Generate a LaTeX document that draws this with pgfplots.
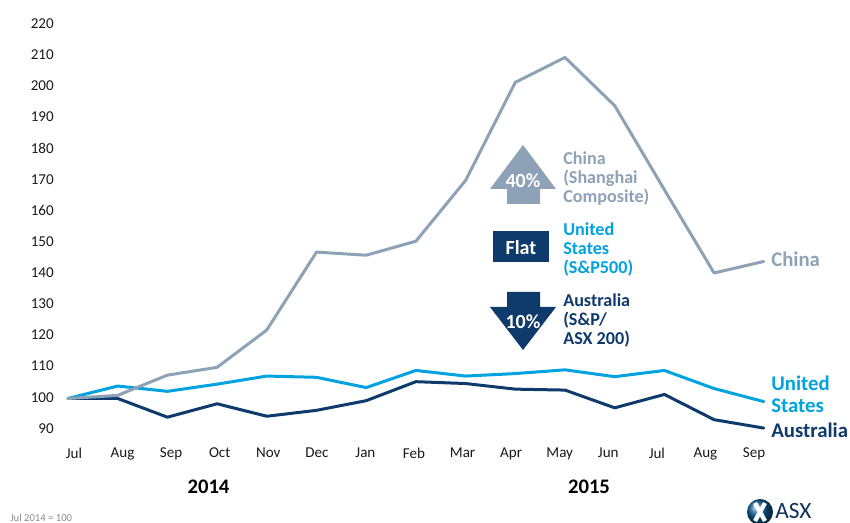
\documentclass[border=0pt]{standalone}
\usepackage{pgfplots}
\usepackage{fontspec}
\setmainfont{Carlito}
\pgfplotsset{compat=1.18}
\definecolor{cgrey}{HTML}{8DA2B6}
\definecolor{cblue}{HTML}{00A3E0}
\definecolor{cnavy}{HTML}{0F3A6C}
\newcommand{\fs}[1]{\fontsize{#1}{#1}\selectfont}
\newcommand{\fsb}[2]{\fontsize{#1}{#2}\selectfont}
\begin{document}
\begin{tikzpicture}
\path[use as bounding box] (0pt,0pt) rectangle (637.5pt,392.25pt);
\begin{axis}[
  at={(45pt,58.1pt)}, anchor=south west,
  scale only axis,
  width=532.5pt, height=326.25pt,
  xmin=-0.16097, xmax=14.1247,
  ymin=84.9, ymax=224.56,
  clip=false,
  axis line style={draw=none},
  tick style={draw=none},
  major tick length=0pt,
  /pgf/number format/assume math mode=true,
  ytick={90,100,110,120,130,140,150,160,170,180,190,200,210,220},
  xtick={0.1207,1.0980,2.0753,3.0526,4.0299,5.0072,5.9845,6.9618,7.9391,8.9164,9.8937,10.871,11.8483,12.8256,13.8029},
  xticklabels={Jul,Aug,Sep,Oct,Nov,Dec,Jan,Feb,Mar,Apr,May,Jun,Jul,Aug,Sep},
  tick label style={font=\fs{11.3pt},text=black!90,inner sep=0pt},
  yticklabel style={xshift=-4.5pt,yshift=0.9pt},
  xticklabel style={yshift=-1.8pt},
]
\addplot[cnavy,line width=2.25pt,line join=round,line cap=round] coordinates {(0,100)(1,100)(2,94)(3,98.3)(4,94.3)(5,96.2)(6,99.3)(7,105.4)(8,104.8)(9,103)(10,102.7)(11,97)(12,101.3)(13,93.2)(14,90.5)};
\addplot[cblue,line width=2.25pt,line join=round,line cap=round] coordinates {(0,100)(1,104)(2,102.3)(3,104.6)(4,107.2)(5,106.8)(6,103.5)(7,109)(8,107.2)(9,108)(10,109.2)(11,107)(12,109)(13,103.2)(14,99)};
\addplot[cgrey,line width=2.25pt,line join=round,line cap=round] coordinates {(0,100)(1,101)(2,107.5)(3,110)(4,122)(5,147)(6,146)(7,150.5)(8,170)(9,201.5)(10,209.5)(11,194)(12,167)(13,140.3)(14,144)};
\end{axis}
\begin{scope}[x=0.75pt,y=-0.75pt,shift={(0pt,392.25pt)}]
\fill[cgrey] (523,145)--(556,189)--(540,189)--(540,204)--(507,204)--(507,189)--(490,189)--cycle;
\fill[cnavy] (493,231) rectangle (549,262);
\fill[cnavy] (507,292)--(540,292)--(540,307)--(556,307)--(523,350)--(490,307)--(507,307)--cycle;
\node[text=white,font=\bfseries\fs{15pt},inner sep=0] at (523,181) {40\%};
\node[text=white,font=\bfseries\fs{15pt},inner sep=0] at (521,248) {Flat};
\node[text=white,font=\bfseries\fs{15pt},inner sep=0] at (523,322) {10\%};
\node[text=cgrey,font=\bfseries\fsb{13.6pt}{14.2pt},anchor=north west,inner sep=0,align=left] at (563,151.5) {China\\(Shanghai\\Composite)};
\node[text=cblue,font=\bfseries\fsb{13.6pt}{14.2pt},anchor=north west,inner sep=0,align=left] at (563,223) {United\\States\\(S\&P500)};
\node[text=cnavy,font=\bfseries\fsb{13.6pt}{14.2pt},anchor=north west,inner sep=0,align=left] at (563,294) {Australia\\(S\&P/\\ASX 200)};
\node[text=cgrey,font=\bfseries\fs{15.6pt},anchor=west,inner sep=0] at (771,259) {China};
\node[text=cblue,font=\bfseries\fsb{15.6pt}{16pt},anchor=north west,inner sep=0,align=left] at (771,376) {United\\States};
\node[text=cnavy,font=\bfseries\fs{15.6pt},anchor=west,inner sep=0] at (771,430) {Australia};
\node[font=\bfseries\fs{15.5pt},inner sep=0] at (208.5,487) {2014};
\node[font=\bfseries\fs{15.5pt},inner sep=0] at (589,487) {2015};
\node[text=black!45,font=\fs{8pt},anchor=west,inner sep=0] at (10,518) {Jul 2014 = 100};
\begin{scope}
\clip (0,0) rectangle (850,523);
\shade[ball color=cnavy!70!cblue] (760,512) circle (13);
\draw[white,line width=3.2pt] (755,503)--(765,521) (765,503)--(755,521);
\end{scope}
\node[text=cnavy!85!black,font=\fs{17.5pt},anchor=base west,inner sep=0] at (775,519) {ASX};
\end{scope}
\end{tikzpicture}
\end{document}
